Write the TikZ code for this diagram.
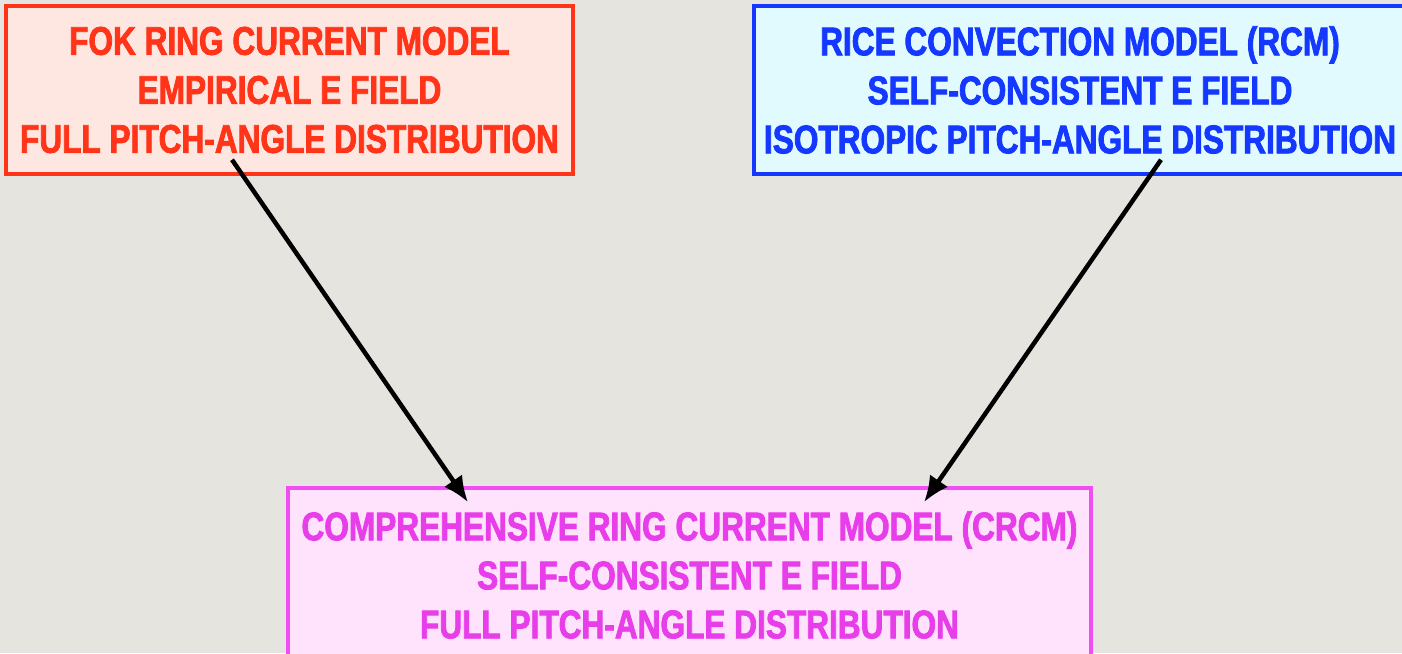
\documentclass[tikz,border=0pt]{standalone}
\usepackage{fontspec}
\newfontfamily\condfont[FakeStretch=0.79,RawFeature={embolden=2}]{Liberation Sans Bold}
\usetikzlibrary{arrows.meta}
\usetikzlibrary{calc}
\definecolor{bgcol}{HTML}{E6E4DF}
\definecolor{fokred}{HTML}{FF3418}
\definecolor{fokfill}{HTML}{FEE6E1}
\definecolor{rcmblue}{HTML}{1438FF}
\definecolor{rcmfill}{HTML}{E0FAFE}
\definecolor{crcmpink}{HTML}{E83EEA}
\definecolor{crcmline}{HTML}{F04EF2}
\definecolor{crcmfill}{HTML}{FFE3FD}

\begin{document}
\begin{tikzpicture}[x=1pt,y=-1pt,>/.tip={Latex[length=26pt,width=22pt]},
	model/.style={draw,shape=rectangle,line width=3.5pt,align=center,inner sep=0pt,
		font=\condfont\fontsize{40}{49}\selectfont},
	link/.style={->,line width=4.5pt}]
	\useasboundingbox (0,0) rectangle (1402,653);
	\clip (0,0) rectangle (1402,653);
	\fill[bgcol] (0,0) rectangle (1402,653);
	\draw (289.5,90) node(fok) [model,draw=fokred,fill=fokfill,text=fokred,
		minimum width=567pt,minimum height=168pt]
		{FOK RING CURRENT MODEL\\EMPIRICAL E FIELD\\FULL PITCH-ANGLE DISTRIBUTION};
	\draw (1080,90) node(rcm) [model,draw=rcmblue,fill=rcmfill,text=rcmblue,
		minimum width=652pt,minimum height=168pt]
		{RICE CONVECTION MODEL (RCM)\\SELF-CONSISTENT E FIELD\\ISOTROPIC PITCH-ANGLE DISTRIBUTION};
	\draw (689.5,575) node(crcm) [model,draw=crcmline,fill=crcmfill,text=crcmpink,
		minimum width=803pt,minimum height=174pt]
		{COMPREHENSIVE RING CURRENT MODEL (CRCM)\\SELF-CONSISTENT E FIELD\\FULL PITCH-ANGLE DISTRIBUTION};
	% free ends of the two arrows
	\coordinate (fokout) at ([xshift=-57.5pt,yshift=16pt]fok.south);
	\coordinate (rcmout) at ([xshift=81pt,yshift=16pt]rcm.south);
	\coordinate (crcmleft) at ([xshift=-221.5pt,yshift=-16pt]crcm.north);
	\coordinate (crcmright) at ([xshift=234.5pt,yshift=-16pt]crcm.north);
	\draw[link] (fokout) -- (crcmleft);
	\draw[link] (rcmout) -- (crcmright);
\end{tikzpicture}
\end{document}
